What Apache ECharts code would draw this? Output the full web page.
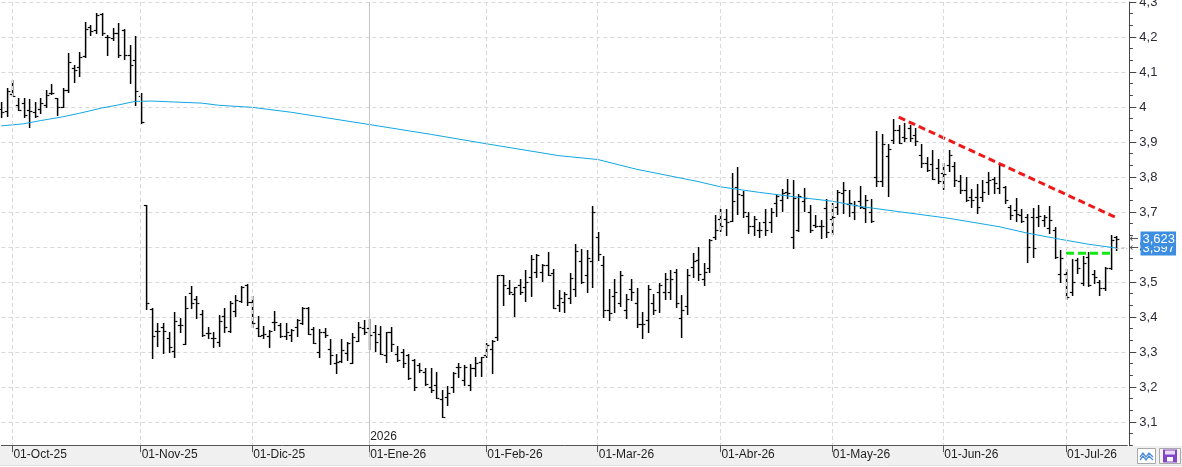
<!DOCTYPE html>
<html>
<head>
<meta charset="utf-8">
<script src="https://cdn.jsdelivr.net/npm/echarts@6/dist/echarts.min.js"></script>
<style>
  html, body { margin: 0; padding: 0; background: #fff; }
  #chart { width: 1182px; height: 467px; }
</style>
</head>
<body>
<div id="chart"></div>
<script>
// trading days: 2 bars in late Sep, then one block per month
var monthLabels = ['01-Oct-25', '01-Nov-25', '01-Dic-25', '01-Ene-26', '01-Feb-26',
  '01-Mar-26', '01-Abr-26', '01-May-26', '01-Jun-26', '01-Jul-26'];
var monthBars = [23, 20, 21, 21, 20, 22, 20, 20, 22, 10];
var leadBars = 2;
var padBars = 2;
var yearLabel = '2026';

var opens = [
  3.994,3.989,4.036,4.007,4.012,3.990,3.985,3.993,4.007,4.039,
  4.025,4.000,4.048,4.110,4.115,4.147,4.229,4.220,4.266,4.199,
  4.196,4.210,4.220,4.148,4.134,4.032,3.720,3.422,3.360,3.370,
  3.339,3.303,3.377,3.322,3.468,3.451,3.408,3.353,3.339,3.328,
  3.403,3.360,3.417,3.447,3.491,3.444,3.368,3.349,3.346,3.385,
  3.377,3.346,3.349,3.372,3.384,3.426,3.367,3.301,3.358,3.308,
  3.269,3.274,3.296,3.270,3.331,3.368,3.368,3.358,3.350,3.291,
  3.358,3.294,3.301,
  3.291,3.277,3.263,3.244,3.201,3.206,3.165,3.172,3.199,3.258,
  3.220,3.206,3.253,3.272,3.291,3.310,3.342,3.520,3.482,3.465,
  3.491,3.485,3.513,3.529,3.529,3.548,3.525,3.434,3.442,3.453,
  3.480,3.560,3.520,3.560,3.630,3.550,3.420,3.460,3.440,3.420,
  3.480,3.440,3.380,3.390,3.440,3.470,3.470,3.470,3.530,
  3.396,3.430,3.544,3.563,3.510,3.539,3.630,3.679,3.680,3.675,
  3.770,3.749,3.690,3.660,3.650,3.670,3.670,3.725,3.735,3.758,
  3.630,3.650,3.730,3.700,3.664,3.659,3.710,3.680,3.715,3.753,
  3.722,3.700,3.730,3.710,3.700,3.800,3.790,3.860,3.906,3.934,
  3.915,3.940,3.920,3.864,3.839,3.837,3.825,3.810,3.834,3.830,
  3.790,3.763,3.744,3.742,3.744,3.786,3.794,3.768,3.770,3.715,
  3.706,3.691,3.687,3.687,3.685,3.677,3.653,3.648,3.524,3.524,
  3.472,3.563,3.496,3.572,3.524,3.501,3.482,3.539,3.629
];
var highs = [
  4.015,4.053,4.077,4.025,4.025,4.022,4.013,4.027,4.048,4.065,
  4.027,4.053,4.155,4.120,4.158,4.242,4.234,4.270,4.268,4.206,
  4.225,4.239,4.222,4.177,4.204,4.039,3.720,3.427,3.382,3.382,
  3.356,3.413,3.398,3.460,3.489,3.460,3.420,3.370,3.358,3.406,
  3.425,3.446,3.463,3.489,3.495,3.461,3.403,3.374,3.363,3.417,
  3.382,3.384,3.366,3.393,3.429,3.428,3.372,3.365,3.368,3.336,
  3.294,3.336,3.328,3.353,3.385,3.391,3.393,3.377,3.374,3.358,
  3.370,3.318,3.308,
  3.293,3.279,3.270,3.253,3.253,3.244,3.191,3.203,3.242,3.270,
  3.263,3.266,3.286,3.285,3.327,3.334,3.520,3.520,3.505,3.486,
  3.510,3.534,3.577,3.580,3.551,3.587,3.536,3.477,3.470,3.525,
  3.608,3.594,3.591,3.717,3.643,3.574,3.479,3.508,3.531,3.467,
  3.510,3.482,3.415,3.491,3.465,3.498,3.527,3.534,3.537,
  3.463,3.537,3.582,3.599,3.555,3.623,3.692,3.708,3.708,3.812,
  3.829,3.760,3.700,3.690,3.671,3.708,3.710,3.751,3.766,3.793,
  3.791,3.751,3.768,3.720,3.692,3.677,3.736,3.725,3.763,3.785,
  3.763,3.730,3.774,3.749,3.736,3.932,3.922,3.893,3.966,3.949,
  3.955,3.949,3.939,3.893,3.858,3.877,3.850,3.839,3.877,3.844,
  3.806,3.801,3.765,3.780,3.791,3.815,3.799,3.839,3.775,3.720,
  3.739,3.708,3.693,3.710,3.720,3.691,3.717,3.658,3.591,3.536,
  3.567,3.568,3.574,3.587,3.534,3.506,3.544,3.634,3.631
];
var lows = [
  3.970,3.973,4.030,3.990,3.970,3.944,3.970,3.982,3.999,4.036,
  3.977,3.999,4.042,4.072,4.089,4.144,4.206,4.210,4.206,4.149,
  4.190,4.142,4.136,4.068,4.006,3.955,3.422,3.284,3.318,3.296,
  3.301,3.287,3.358,3.322,3.425,3.398,3.347,3.339,3.315,3.317,
  3.358,3.358,3.404,3.444,3.433,3.372,3.347,3.341,3.315,3.363,
  3.344,3.337,3.331,3.347,3.380,3.350,3.325,3.287,3.344,3.265,
  3.239,3.272,3.277,3.270,3.330,3.350,3.310,3.304,3.293,3.272,
  3.304,3.275,3.258,
  3.223,3.191,3.242,3.206,3.187,3.168,3.113,3.148,3.187,3.229,
  3.206,3.191,3.232,3.232,3.287,3.241,3.334,3.434,3.465,3.402,
  3.467,3.446,3.461,3.513,3.504,3.520,3.427,3.418,3.415,3.441,
  3.460,3.498,3.470,3.487,3.563,3.400,3.391,3.415,3.430,3.398,
  3.449,3.370,3.341,3.358,3.408,3.415,3.450,3.450,3.428,
  3.344,3.409,3.515,3.506,3.490,3.530,3.623,3.645,3.635,3.673,
  3.695,3.685,3.639,3.634,3.628,3.633,3.644,3.690,3.703,3.741,
  3.596,3.646,3.703,3.644,3.656,3.627,3.630,3.637,3.694,3.698,
  3.689,3.679,3.710,3.670,3.670,3.774,3.774,3.747,3.896,3.896,
  3.903,3.903,3.890,3.828,3.817,3.793,3.784,3.766,3.817,3.774,
  3.753,3.730,3.715,3.698,3.730,3.751,3.753,3.753,3.725,3.679,
  3.675,3.670,3.558,3.572,3.660,3.660,3.641,3.568,3.501,3.451,
  3.463,3.525,3.491,3.489,3.496,3.463,3.477,3.536,3.591
];
var closes = [
  3.985,4.045,4.032,3.992,3.977,3.988,3.974,4.012,4.034,4.041,
  4.000,4.048,4.130,4.105,4.144,4.222,4.218,4.263,4.210,4.199,
  4.210,4.148,4.148,4.120,4.046,3.958,3.439,3.346,3.360,3.360,
  3.315,3.388,3.377,3.425,3.441,3.440,3.349,3.353,3.339,3.388,
  3.372,3.441,3.449,3.487,3.444,3.382,3.347,3.350,3.361,3.385,
  3.347,3.358,3.363,3.391,3.426,3.351,3.325,3.358,3.349,3.291,
  3.272,3.306,3.325,3.344,3.372,3.358,3.349,3.328,3.294,3.356,
  3.322,3.277,3.270,
  3.225,3.201,3.249,3.210,3.191,3.168,3.115,3.184,3.239,3.258,
  3.258,3.253,3.268,3.285,3.320,3.332,3.520,3.491,3.470,3.485,
  3.470,3.501,3.565,3.577,3.548,3.520,3.427,3.455,3.467,3.512,
  3.590,3.500,3.570,3.700,3.580,3.420,3.410,3.470,3.520,3.450,
  3.470,3.380,3.380,3.480,3.420,3.490,3.510,3.510,3.440,
  3.420,3.520,3.560,3.523,3.530,3.620,3.650,3.660,3.670,3.730,
  3.751,3.700,3.660,3.680,3.650,3.649,3.700,3.745,3.755,3.755,
  3.740,3.745,3.740,3.650,3.660,3.660,3.644,3.686,3.756,3.763,
  3.727,3.720,3.715,3.735,3.675,3.790,3.894,3.879,3.934,3.898,
  3.910,3.910,3.904,3.840,3.820,3.793,3.788,3.808,3.862,3.792,
  3.763,3.734,3.734,3.715,3.758,3.791,3.782,3.834,3.734,3.691,
  3.694,3.675,3.601,3.596,3.689,3.687,3.677,3.572,3.570,3.456,
  3.501,3.539,3.553,3.491,3.515,3.482,3.539,3.620,3.623
];

// moving average at these bar indices
var maIdx = [0, 4, 7, 11, 14, 18, 21, 24, 27, 30, 36, 39, 45, 48, 52, 54, 66, 77, 87, 100,
  107, 114, 125, 129, 136, 143, 149, 154, 161, 170, 179, 184, 190, 195, 200];
var maVal = [3.946, 3.952, 3.961, 3.972, 3.982, 3.997, 4.006, 4.016, 4.017, 4.015, 4.011, 4.005,
  3.999, 3.993, 3.985, 3.980, 3.950, 3.922, 3.895, 3.861, 3.850, 3.822, 3.787, 3.772, 3.756,
  3.742, 3.731, 3.716, 3.701, 3.682, 3.658, 3.640, 3.622, 3.608, 3.597];

// drawn trend lines [barIndex, price]
var resistance = [[161, 3.971], [200, 3.684]];
var support = [[191, 3.582], [199, 3.582]];

var categories = [];
var monthStart = [];
for (var k = 0; k < leadBars; k++) categories.push('Sep-25 #' + (k + 1));
monthLabels.forEach(function (lab, m) {
  monthStart.push(categories.length);
  for (var j = 0; j < monthBars[m]; j++) categories.push(j === 0 ? lab : lab + ' #' + (j + 1));
});
for (var p = 0; p < padBars; p++) categories.push('pad ' + p);
var yearStart = monthStart[monthLabels.indexOf('01-Ene-26')];

var ohlc = opens.map(function (o, i) { return [i, o, highs[i], lows[i], closes[i]]; });
var maData = maIdx.map(function (i, n) { return [i, maVal[n]]; });
var lastIdx = opens.length - 1;
var lastClose = closes[lastIdx];
var lastMa = maVal[maVal.length - 1];
var endIdx = categories.length - 1;

function comma(v, d) { return v.toFixed(d).replace('.', ','); }
function isMonthStart(i) { return monthStart.indexOf(i) >= 0; }

function renderBar(params, api) {
  var i = api.value(0);
  var c = Math.round(api.coord([i, api.value(2)])[0]);
  var row = function (v) { return Math.round(api.coord([i, v])[1]) + 0.5; };
  var yo = row(api.value(1)), yh = row(api.value(2)), yl = row(api.value(3)), yc = row(api.value(4));
  var st = { stroke: '#000', lineWidth: 1.5 };
  var tk = { stroke: '#000', lineWidth: 1.2 };
  return {
    type: 'group',
    children: [
      { type: 'line', shape: { x1: c + 0.6, y1: yh - 0.5, x2: c + 0.6, y2: yl + 0.5 }, style: st },
      { type: 'line', shape: { x1: c - 2.2, y1: yo, x2: c, y2: yo }, style: tk },
      { type: 'line', shape: { x1: c + 1.2, y1: yc, x2: c + 3.4, y2: yc }, style: tk }
    ]
  };
}

var font = 'Liberation Sans, Arial, sans-serif';
var dashGrid = { color: '#d9d9d9', type: [4, 3], width: 1 };

var priceLabel = function (text) {
  return {
    show: true,
    position: 'end',
    distance: 2,
    formatter: '{a|←}{b|' + text + '}',
    rich: {
      a: { color: '#555', fontSize: 11, fontFamily: 'DejaVu Sans', padding: [0, 2, 0, 0] },
      b: { color: '#fff', backgroundColor: '#3d8ee0', fontSize: 13, fontFamily: font,
           lineHeight: 16, padding: [1, 1, 1, 2] }
    }
  };
};

var option = {
  animation: false,
  grid: { left: 1.3, right: 54.7, top: 2, bottom: 10, outerBoundsMode: 'none', containLabel: false },
  xAxis: [{
    type: 'category',
    data: categories,
    boundaryGap: false,
    position: 'bottom',
    offset: -12,
    z: 10,
    axisLine: { lineStyle: { color: '#555', width: 1 } },
    axisTick: { interval: isMonthStart, length: 7, lineStyle: { color: '#555' } },
    axisLabel: {
      interval: isMonthStart, align: 'left', margin: 4, padding: [0, 0, 0, 1],
      color: '#1e1e1e', fontSize: 12, fontFamily: font,
      formatter: function (v) { return monthLabels.indexOf(v) >= 0 ? v : ''; }
    },
    splitLine: { show: true, interval: isMonthStart, lineStyle: dashGrid }
  }, {
    type: 'category',
    data: categories,
    boundaryGap: false,
    position: 'bottom',
    offset: -12,
    z: 10,
    axisLine: { show: false },
    axisTick: { show: false },
    axisLabel: {
      inside: true, margin: 2, align: 'left', padding: [0, 0, 0, 1],
      interval: function (i) { return i === yearStart; },
      formatter: function () { return yearLabel; },
      color: '#1e1e1e', fontSize: 12, fontFamily: font
    },
    splitLine: {
      show: true,
      interval: function (i) { return i === yearStart; },
      lineStyle: { color: '#c4c4c4', width: 1 }
    }
  }],
  yAxis: {
    type: 'value',
    position: 'right',
    offset: 2,
    min: 3.0,
    max: 4.3,
    interval: 0.1,
    z: 0,
    axisLine: { show: true, lineStyle: { color: '#444' } },
    axisTick: { show: true, length: 7, lineStyle: { color: '#444' } },
    minorTick: { show: true, splitNumber: 3, length: 3.5, lineStyle: { color: '#444' } },
    axisLabel: {
      margin: 10, align: 'left', color: '#2a2a35', fontSize: 13, fontFamily: font,
      formatter: function (v) {
        if (v < 3.05) return '';
        var r = Math.round(v * 10) / 10;
        return String(r).replace('.', ',');
      }
    },
    splitLine: { show: true, lineStyle: dashGrid }
  },
  graphic: [
    { type: 'rect', z: 5, shape: { x: 0, y: 446, width: 1182, height: 19 }, style: { fill: '#f0f0f0' } },
    { type: 'line', z: 5, shape: { x1: 0, y1: 465.5, x2: 1182, y2: 465.5 }, style: { stroke: '#e2e2e2' } },
    { type: 'rect', z: 6, shape: { x: 1137.5, y: 448.5, width: 18, height: 15 }, style: { fill: '#fff', stroke: '#a8a8a8' } },
    { type: 'polyline', z: 7, shape: { points: [[1140, 457], [1143, 453], [1146, 457], [1149, 453], [1153, 457]] },
      style: { stroke: '#4f8ed8', lineWidth: 1.3, fill: null } },
    { type: 'polyline', z: 7, shape: { points: [[1140, 460], [1143, 456], [1146, 460], [1149, 456], [1153, 460]] },
      style: { stroke: '#4f8ed8', lineWidth: 1.3, fill: null } },
    { type: 'rect', z: 6, shape: { x: 1159.5, y: 448.5, width: 21, height: 15 }, style: { fill: '#f4f4f4', stroke: '#a8a8a8' } },
    { type: 'rect', z: 7, shape: { x: 1163, y: 449.5, width: 14, height: 13 }, style: { fill: '#8446c8' } },
    { type: 'rect', z: 8, shape: { x: 1165, y: 450.5, width: 10, height: 4 }, style: { fill: '#e8dcf6' } },
    { type: 'rect', z: 8, shape: { x: 1167, y: 457, width: 6, height: 4.5 }, style: { fill: '#ffffff' } }
  ],
  series: [{
    name: 'OHLC',
    type: 'custom',
    renderItem: renderBar,
    encode: { x: 0, y: [1, 2, 3, 4] },
    data: ohlc,
    z: 3
  }, {
    name: 'Media',
    type: 'line',
    data: maData,
    symbol: 'none',
    lineStyle: { color: '#12a6e4', width: 1 },
    z: 4,
    markLine: {
      silent: true,
      symbol: ['none', 'none'],
      animation: false,
      data: [
        [{ coord: [lastIdx, lastMa], lineStyle: { color: '#c4c4c4', type: [3, 2], width: 1 }, label: priceLabel(comma(lastMa, 3)) },
         { coord: [endIdx, lastMa] }],
        [{ coord: [lastIdx, lastClose], lineStyle: { color: 'rgba(0,0,0,0)', width: 1 }, label: priceLabel(comma(lastClose, 3)) },
         { coord: [endIdx, lastClose] }]
      ]
    }
  }, {
    name: 'Resistencia',
    type: 'line',
    data: resistance,
    symbol: 'none',
    lineStyle: { color: '#f01818', width: 3, type: [7, 4] },
    z: 5
  }, {
    name: 'Soporte',
    type: 'line',
    data: support,
    symbol: 'none',
    lineStyle: { color: '#12e812', width: 3, type: [8, 4] },
    z: 5
  }]
};

var chart = echarts.init(document.getElementById('chart'));
chart.setOption(option);
</script>
</body>
</html>
